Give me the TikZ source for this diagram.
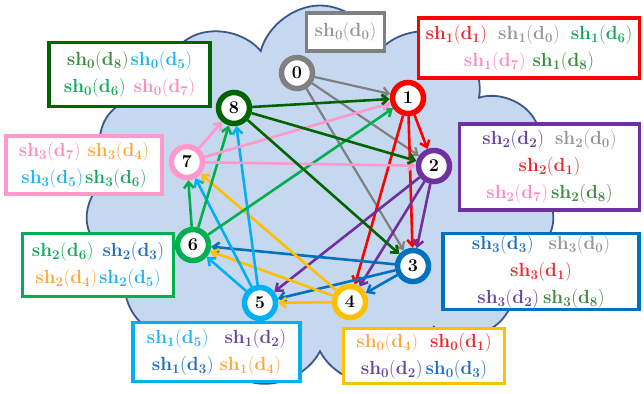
\documentclass[tikz,border=0pt]{standalone}
\usepackage{fix-cm}
\usepackage{tikz}
\usetikzlibrary{arrows.meta,shapes.symbols}
% node colours
\definecolor{n0}{RGB}{128,128,128}
\definecolor{n1}{RGB}{255,0,0}
\definecolor{n2}{RGB}{112,48,160}
\definecolor{n3}{RGB}{0,112,192}
\definecolor{n4}{RGB}{255,192,0}
\definecolor{n5}{RGB}{0,176,240}
\definecolor{n6}{RGB}{0,176,80}
\definecolor{n7}{RGB}{255,153,204}
\definecolor{n8}{RGB}{0,100,0}
% text colours
\definecolor{t0}{RGB}{150,150,150}
\definecolor{t1}{RGB}{240,40,40}
\definecolor{t2}{RGB}{100,70,160}
\definecolor{t3}{RGB}{30,110,190}
\definecolor{t4}{RGB}{255,168,60}
\definecolor{t5}{RGB}{30,180,240}
\definecolor{t6}{RGB}{20,170,90}
\definecolor{t7}{RGB}{250,140,190}
\definecolor{t8}{RGB}{60,140,60}
\definecolor{cloudfill}{RGB}{198,216,240}
\definecolor{cloudline}{RGB}{59,88,136}
\newcommand{\shd}[2]{\textcolor{t#2}{$\mathbf{sh_{#1}(d_{#2})}$}}
\begin{document}
\begin{tikzpicture}[
    x=1pt, y=-1pt,
    every node/.style={font=\fontsize{19}{27}\selectfont},
    vert/.style={circle, draw, line width=5.5pt, fill=white, minimum size=31pt, inner sep=0pt, font=\fontsize{18}{20}\selectfont\bfseries},
    sharebox/.style={draw, line width=3.8pt, fill=white, align=center, inner sep=0pt},
    edge/.style={-{Straight Barb[length=6pt,width=10pt]}, line width=2.6pt},
]
\useasboundingbox (0,0) rectangle (644,393);
\node[cloud, cloud puffs=11, draw=cloudline, fill=cloudfill, line width=1.8pt, minimum width=470pt, minimum height=385pt] (cloud) at (320,198) {};

% share boxes
\node[sharebox, draw=n0, minimum width=78pt, minimum height=38pt] (b0) at (345.5,32) {\shd00};
\node[sharebox, draw=n1, minimum width=221pt, minimum height=60pt] (b1) at (529,48) {\shd11\hspace{11pt}\shd10\hspace{11pt}\shd16\\ \shd17\hspace{7pt}\shd18};
\node[sharebox, draw=n2, minimum width=180pt, minimum height=86pt] (b2) at (549.5,167) {\shd22\hspace{11pt}\shd20\\ \shd21\\ \shd27\hspace{3pt}\shd28};
\node[sharebox, draw=n3, minimum width=196pt, minimum height=76pt] (b3) at (541,271.5) {\shd33\hspace{15pt}\shd30\\ \shd31\\ \shd32\hspace{4pt}\shd38};
\node[sharebox, draw=n4, minimum width=161pt, minimum height=55pt] (b4) at (424,356) {\shd04\hspace{12pt}\shd01\\ \shd02\hspace{3pt}\shd03};
\node[sharebox, draw=n5, minimum width=167pt, minimum height=59pt] (b5) at (216.5,352) {\shd15\hspace{16pt}\shd12\\ \shd13\hspace{6pt}\shd14};
\node[sharebox, draw=n6, minimum width=151pt, minimum height=63pt] (b6) at (98,265) {\shd26\hspace{9pt}\shd23\\ \shd24\hspace{2pt}\shd25};
\node[sharebox, draw=n7, minimum width=156pt, minimum height=58pt] (b7) at (84,165) {\shd37\hspace{7pt}\shd34\\ \shd35\hspace{2pt}\shd36};
\node[sharebox, draw=n8, minimum width=161pt, minimum height=64pt] (b8) at (129.5,74.5) {\shd08\hspace{2pt}\shd05\\ \shd06\hspace{8pt}\shd07};

% servers
\node[vert, draw=n0] (v0) at (297,73) {0};
\node[vert, draw=n1] (v1) at (408,98) {1};
\node[vert, draw=n2] (v2) at (434,166) {2};
\node[vert, draw=n3] (v3) at (413,266) {3};
\node[vert, draw=n4] (v4) at (350,302) {4};
\node[vert, draw=n5] (v5) at (260,303) {5};
\node[vert, draw=n6] (v6) at (193,245) {6};
\node[vert, draw=n7] (v7) at (187,162) {7};
\node[vert, draw=n8] (v8) at (234,108) {8};

% shares sent to the next three servers
\draw[edge, n0, line width=2.2pt] (v0) edge (v1) edge (v2) edge (v3);
\draw[edge, n1] (v1) edge (v2) edge (v3) edge (v4);
\draw[edge, n2] (v2) edge (v3) edge (v4) edge (v5);
\draw[edge, n3] (v3) edge (v4) edge (v5) edge (v6);
\draw[edge, n4] (v4) edge (v5) edge (v6) edge (v7);
\draw[edge, n5] (v5) edge (v6) edge (v7) edge (v8);
\draw[edge, n6] (v6) edge (v7) edge (v8) edge (v1);
\draw[edge, n7] (v7) edge (v8) edge (v1) edge (v2);
\draw[edge, n8] (v8) edge (v1) edge (v2) edge (v3);
\end{tikzpicture}
\end{document}
